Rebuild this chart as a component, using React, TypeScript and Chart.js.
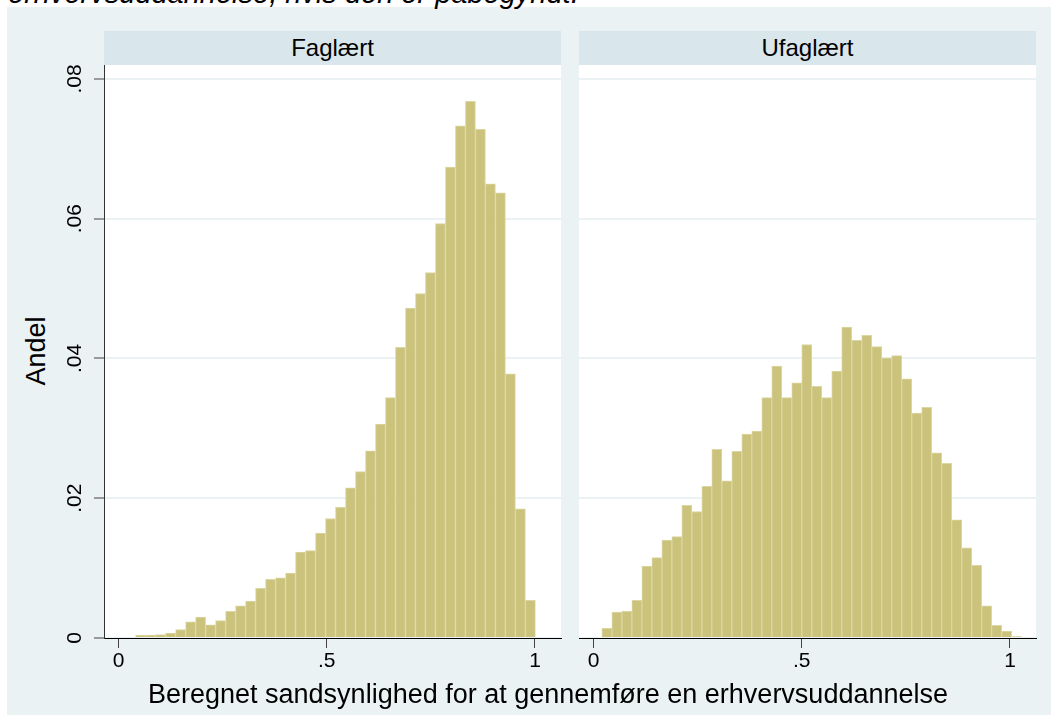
import React, { useEffect, useRef } from "react";
import { Chart, registerables } from "chart.js";

Chart.register(...registerables);

// ---------- data ----------
const faglaertBins = [
  0.0004, 0.0004, 0.0005, 0.0007, 0.0012, 0.0023, 0.003, 0.0019, 0.0025, 0.0038,
  0.0046, 0.0053, 0.0071, 0.0084, 0.0086, 0.0093, 0.0123, 0.0125, 0.015, 0.0171,
  0.0187, 0.0215, 0.0238, 0.0268, 0.0306, 0.0344, 0.0416, 0.0472, 0.0493, 0.0523,
  0.0593, 0.0674, 0.0733, 0.0768, 0.0728, 0.065, 0.0637, 0.0378, 0.0185, 0.0054,
];
const ufaglaertBins = [
  0.0014, 0.0037, 0.0038, 0.0054, 0.0103, 0.0115, 0.014, 0.0145, 0.019, 0.0181,
  0.0217, 0.027, 0.0225, 0.0267, 0.0292, 0.0296, 0.0344, 0.0389, 0.0344, 0.0365,
  0.042, 0.036, 0.0344, 0.0382, 0.0445, 0.0426, 0.0433, 0.0417, 0.0401, 0.0404,
  0.0371, 0.0322, 0.033, 0.0265, 0.025, 0.0169, 0.0129, 0.0104, 0.0046, 0.0018,
  0.001, 0.0002,
];
const faglaertBinStart = 0.041;
const ufaglaertBinStart = 0.02;
const binWidth = 0.024;

const yTickValues = [0, 0.02, 0.04, 0.06, 0.08];
const yTickLabels = ["0", ".02", ".04", ".06", ".08"];
const xTickValues = [0, 0.5, 1];
const xTickLabels = ["0", ".5", "1"];

const panelTitles = ["Faglært", "Ufaglært"];
const yTitle = "Andel";
const xTitle = "Beregnet sandsynlighed for at gennemføre en erhvervsuddannelse";
const caption = "erhvervsuddannelse, hvis den er påbegyndt.";

// ---------- styles ----------
const X_MIN = -0.035;
const X_MAX = 1.0625;
const Y_MAX = 0.082;
const BG = "#EAF2F3";
const STRIP = "#D9E6EB";
const BAR_FILL = "#CBC27C";
const BAR_EDGE = "#DCD7A2";
const FONT = "'Liberation Sans', Arial, Helvetica, sans-serif";

const whiteArea = {
  id: "whiteArea",
  beforeDraw(chart: any) {
    const { ctx, chartArea } = chart;
    ctx.save();
    ctx.fillStyle = "#ffffff";
    ctx.fillRect(chartArea.left, chartArea.top, chartArea.right - chartArea.left, chartArea.bottom - chartArea.top);
    ctx.restore();
  },
};

function makeConfig(bins: number[], start: number, showY: boolean): any {
  return {
    type: "bar",
    data: {
      datasets: [
        {
          data: bins.map((v, i) => ({ x: start + (i + 0.5) * binWidth, y: v })),
          backgroundColor: BAR_FILL,
          borderColor: BAR_EDGE,
          borderWidth: 1,
          borderSkipped: "bottom",
          barPercentage: 1,
          categoryPercentage: 1,
        },
      ],
    },
    options: {
      animation: false,
      responsive: false,
      devicePixelRatio: 1,
      layout: {
        padding: showY
          ? { left: 0, right: 4, top: 20, bottom: 0 }
          : { left: 19, right: 14, top: 20, bottom: 0 },
      },
      plugins: { legend: { display: false }, tooltip: { enabled: false }, title: { display: false } },
      scales: {
        x: {
          type: "linear",
          min: X_MIN,
          max: X_MAX,
          offset: false,
          afterBuildTicks: (s: any) => {
            s.ticks = xTickValues.map((v) => ({ value: v }));
          },
          afterFit: (s: any) => {
            s.height = 47;
          },
          ticks: {
            callback: (_v: any, i: number) => xTickLabels[i],
            color: "#000",
            font: { family: FONT, size: 21 },
            padding: 1,
            autoSkip: false,
            minRotation: 0,
            maxRotation: 0,
          },
          grid: {
            offset: false,
            drawOnChartArea: false,
            drawTicks: true,
            tickLength: 10,
            tickColor: "#444",
            tickWidth: 1,
          },
          border: { display: true, color: "#000", width: 1, z: 1 },
        },
        y: {
          type: "linear",
          min: 0,
          max: Y_MAX,
          afterBuildTicks: (s: any) => {
            s.ticks = yTickValues.map((v) => ({ value: v }));
          },
          afterFit: (s: any) => {
            s.width = showY ? 54 : 0;
          },
          ticks: {
            display: showY,
            callback: (_v: any, i: number) => yTickLabels[i],
            color: "#000",
            font: { family: FONT, size: 21 },
            minRotation: 90,
            maxRotation: 90,
            crossAlign: "center",
            padding: 4,
            autoSkip: false,
          },
          grid: {
            color: BG,
            lineWidth: 2,
            drawTicks: showY,
            tickLength: 10,
            tickColor: "#444",
            tickWidth: 1,
          },
          border: { display: showY, color: "#333", width: 1, z: 1 },
        },
      },
    },
    plugins: [whiteArea],
  };
}

function Panel(props: { bins: number[]; start: number; showY: boolean; left: number; width: number }) {
  const ref = useRef<HTMLCanvasElement | null>(null);
  useEffect(() => {
    if (!ref.current) return;
    const chart = new Chart(ref.current, makeConfig(props.bins, props.start, props.showY));
    return () => chart.destroy();
  }, []);
  return (
    <canvas
      ref={ref}
      width={props.width}
      height={640}
      style={{ position: "absolute", left: props.left, top: 45, width: props.width, height: 640 }}
    />
  );
}

const stripStyle = (left: number): React.CSSProperties => ({
  position: "absolute",
  left,
  top: 31,
  width: 457,
  height: 34,
  background: STRIP,
  display: "flex",
  alignItems: "center",
  justifyContent: "center",
  fontFamily: FONT,
  fontSize: 24,
  color: "#000",
});

export default function App() {
  return (
    <div
      style={{
        position: "fixed",
        left: 0,
        top: 0,
        width: 1051,
        height: 715,
        overflow: "hidden",
        background: "#fff",
      }}
    >
      <div style={{ position: "absolute", left: 7, top: 7, width: 1044, height: 708, background: BG }} />
      <div
        style={{
          position: "absolute",
          left: 8,
          top: -21,
          fontFamily: FONT,
          fontStyle: "italic",
          fontSize: 29,
          lineHeight: "29px",
          whiteSpace: "nowrap",
          color: "#000",
        }}
      >
        {caption}
      </div>
      <div style={stripStyle(104)}>{panelTitles[0]}</div>
      <div style={stripStyle(579)}>{panelTitles[1]}</div>
      <div
        style={{
          position: "absolute",
          left: 35.5,
          top: 351,
          transform: "translate(-50%, -50%) rotate(-90deg)",
          fontFamily: FONT,
          fontSize: 27,
          lineHeight: "27px",
          whiteSpace: "nowrap",
          color: "#000",
        }}
      >
        {yTitle}
      </div>
      <Panel bins={faglaertBins} start={faglaertBinStart} showY={true} left={50} width={515} />
      <Panel bins={ufaglaertBins} start={ufaglaertBinStart} showY={false} left={560} width={490} />
      <div
        style={{
          position: "absolute",
          left: 548,
          top: 681,
          transform: "translateX(-50%)",
          fontFamily: FONT,
          fontSize: 27,
          lineHeight: "27px",
          whiteSpace: "nowrap",
          color: "#000",
        }}
      >
        {xTitle}
      </div>
    </div>
  );
}
